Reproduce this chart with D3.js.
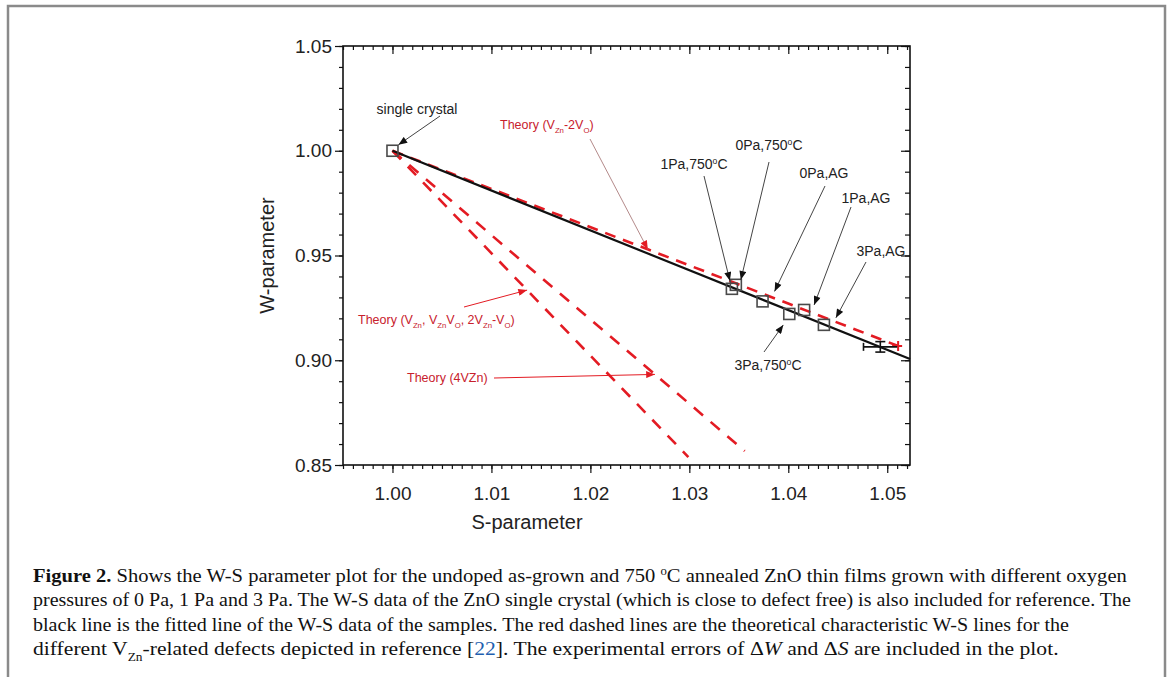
<!DOCTYPE html>
<html>
<head>
<meta charset="utf-8">
<script src="https://cdn.jsdelivr.net/npm/d3@7"></script>
<style>
  html, body { margin: 0; padding: 0; background: #fff; }
  svg { display: block; }
</style>
</head>
<body>
<div id="chart"></div>
<script>
// --- données ---
const sampleNames = ["single crystal", "1Pa,750°C", "0Pa,750°C", "0Pa,AG", "3Pa,750°C", "1Pa,AG", "3Pa,AG"]
const sValues = [1.000, 1.0343, 1.0347, 1.0374, 1.0401, 1.0416, 1.0436]
const wValues = [1.000, 0.9341, 0.9360, 0.9281, 0.9221, 0.9240, 0.9169]

// barre d'erreur représentative (ΔS, ΔW)
const errPoint = [1.0493, 0.9064]
const errDelta = [0.0017, 0.0025]

// droite ajustée (noire)
const fitS = [1.000, 1.0523]
const fitW = [1.000, 0.9006]

// droites théoriques (rouges, pointillés) : départ commun (1, 1)
const theoryLabels = ["Vzn-2Vo", "Vzn,VznVo,2Vzn-Vo", "4VZn"]
const theoryEndS = [1.0511, 1.0299, 1.0356]
const theoryEndW = [0.9068, 0.8538, 0.8567]

const xTickValues = [1.00, 1.01, 1.02, 1.03, 1.04, 1.05]
const yTickValues = [0.85, 0.90, 0.95, 1.00, 1.05]
const xMinorValues = d3.range(995, 1053).map(i => i / 1000)
const yMinorValues = d3.range(85, 106).map(i => i / 100)

// --- mise en page ---
const W = 1171, H = 677
const frame = { left: 343, right: 910, top: 46, bottom: 465 }
const RED = "#e31b23", RED_TXT = "#c8202c", SANS = "Liberation Sans, Arial, sans-serif"
const SERIF = "Liberation Serif, Times New Roman, serif"

const svg = d3.select("#chart").append("svg")
  .attr("width", W).attr("height", H)
  .attr("viewBox", `0 0 ${W} ${H}`)

// cadre extérieur gris
svg.append("rect")
  .attr("x", 8).attr("y", 6).attr("width", 1157).attr("height", 700)
  .attr("fill", "none").attr("stroke", "#8a8a8a").attr("stroke-width", 2.5)

const x = d3.scaleLinear().domain([0.995, 1.0523]).range([frame.left, frame.right])
const y = d3.scaleLinear().domain([0.85, 1.05]).range([frame.bottom, frame.top])

// flèches
const defs = svg.append("defs")
function arrowMarker(id, color) {
  defs.append("marker")
    .attr("id", id).attr("viewBox", "0 0 10 8")
    .attr("refX", 10).attr("refY", 4)
    .attr("markerWidth", 10).attr("markerHeight", 7)
    .attr("markerUnits", "userSpaceOnUse").attr("orient", "auto")
    .append("path").attr("d", "M0,0 L10,4 L0,8 Z").attr("fill", color)
}
arrowMarker("arrK", "#111")
arrowMarker("arrR", RED)

// --- axes (ticks mineurs + majeurs) ---
const axisColor = "#111"
function axisGroup(axis, tx, ty) {
  return svg.append("g")
    .attr("transform", `translate(${tx},${ty})`)
    .call(axis)
    .call(s => s.select(".domain").remove())
    .call(s => s.selectAll("line").attr("stroke", axisColor).attr("stroke-width", 1.2))
}
// bas : vers l'extérieur
axisGroup(d3.axisBottom(x).tickValues(xMinorValues).tickSize(4).tickFormat(""), 0, frame.bottom)
axisGroup(d3.axisBottom(x).tickValues(xTickValues).tickSize(8).tickPadding(14).tickFormat(d3.format(".2f")), 0, frame.bottom)
  .selectAll("text").attr("font-size", 19).attr("font-family", SANS).attr("fill", "#222")
// haut : vers l'intérieur
axisGroup(d3.axisTop(x).tickValues(xMinorValues).tickSize(-4).tickFormat(""), 0, frame.top)
axisGroup(d3.axisTop(x).tickValues(xTickValues).tickSize(-8).tickFormat(""), 0, frame.top)
// gauche : vers l'extérieur
axisGroup(d3.axisLeft(y).tickValues(yMinorValues).tickSize(4).tickFormat(""), frame.left, 0)
axisGroup(d3.axisLeft(y).tickValues(yTickValues).tickSize(8).tickPadding(3).tickFormat(d3.format(".2f")), frame.left, 0)
  .selectAll("text").attr("font-size", 19).attr("font-family", SANS).attr("fill", "#222")
// droite : vers l'intérieur
axisGroup(d3.axisRight(y).tickValues(yMinorValues).tickSize(-5).tickFormat(""), frame.right, 0)
axisGroup(d3.axisRight(y).tickValues(yTickValues).tickSize(-9).tickFormat(""), frame.right, 0)

svg.append("rect")
  .attr("x", frame.left).attr("y", frame.top)
  .attr("width", frame.right - frame.left).attr("height", frame.bottom - frame.top)
  .attr("fill", "none").attr("stroke", axisColor).attr("stroke-width", 1.6)

// titres d'axes
svg.append("text")
  .attr("x", 527).attr("y", 529)
  .attr("text-anchor", "middle").attr("font-size", 20).attr("font-family", SANS).attr("fill", "#222")
  .text("S-parameter")
svg.append("text")
  .attr("transform", `translate(274,${(frame.top + frame.bottom) / 2}) rotate(-90)`)
  .attr("text-anchor", "middle").attr("font-size", 20).attr("font-family", SANS).attr("fill", "#222")
  .text("W-parameter")

// --- droites ---
const line = d3.line().x(d => x(d[0])).y(d => y(d[1]))

theoryEndS.forEach((s, i) => {
  svg.append("path")
    .attr("d", line([[1.0, 1.0], [s, theoryEndW[i]]]))
    .attr("fill", "none").attr("stroke", RED).attr("stroke-width", 2.6)
    .attr("stroke-dasharray", i === 0 ? "11,8" : "12,10")
})

svg.append("path")
  .attr("d", line([[fitS[0], fitW[0]], [fitS[1], fitW[1]]]))
  .attr("fill", "none").attr("stroke", "#111").attr("stroke-width", 2.2)

// fin de la droite V_Zn-2V_O : petite croix rouge
{
  const px = x(theoryEndS[0]), py = y(theoryEndW[0])
  svg.append("path")
    .attr("d", `M${px - 6},${py} H${px + 4} M${px},${py - 5} V${py + 5}`)
    .attr("stroke", RED).attr("stroke-width", 2)
}

// barre d'erreur
{
  const cx = x(errPoint[0]), cy = y(errPoint[1])
  const x0 = x(errPoint[0] - errDelta[0]), x1 = x(errPoint[0] + errDelta[0])
  const y0 = y(errPoint[1] + errDelta[1]), y1 = y(errPoint[1] - errDelta[1])
  const eb = svg.append("g").attr("stroke", "#111").attr("stroke-width", 1.6)
  eb.append("line").attr("x1", x0).attr("x2", x1).attr("y1", cy).attr("y2", cy)
  eb.append("line").attr("x1", x0).attr("x2", x0).attr("y1", cy - 4).attr("y2", cy + 4)
  eb.append("line").attr("x1", cx).attr("x2", cx).attr("y1", y0).attr("y2", y1)
  eb.append("line").attr("x1", cx - 5).attr("x2", cx + 5).attr("y1", y0).attr("y2", y0)
  eb.append("line").attr("x1", cx - 5).attr("x2", cx + 5).attr("y1", y1).attr("y2", y1)
}

// points (carrés creux)
const sq = 11
svg.append("g").selectAll("rect")
  .data(sValues.map((s, i) => [s, wValues[i]]))
  .join("rect")
  .attr("x", d => x(d[0]) - sq / 2).attr("y", d => y(d[1]) - sq / 2)
  .attr("width", sq).attr("height", sq)
  .attr("fill", "none").attr("stroke", "#4a4a4a").attr("stroke-width", 1.6)

// --- texte enrichi (indices / exposants) ---
function rich(sel, parts, size) {
  let shift = 0
  parts.forEach(p => {
    const kind = p.sub ? "sub" : p.sup ? "sup" : null
    const target = kind === "sub" ? size * 0.3 : kind === "sup" ? -size * 0.38 : 0
    const t = sel.append("tspan")
      .attr("dy", target - shift)
      .attr("font-size", kind ? size * 0.62 : size)
      .text(p.t)
    if (p.b) t.attr("font-weight", "bold")
    if (p.i) t.attr("font-style", "italic")
    if (p.c) t.attr("fill", p.c)
    shift = target
  })
  return sel
}

// annotations des échantillons : [index, texte x, texte y, départ flèche, décalage pointe]
const sampleNotes = [
  [0, 417, 109, [440, 116], [6, -6]],
  [1, 694, 164, [704, 176], [-2, -8]],
  [2, 769, 145, [769, 162], [5, -5]],
  [3, 824, 173, [825, 186], [12, -10]],
  [5, 866, 198, [851, 207], [10, -5]],
  [6, 881, 251, [866, 262], [12, -7]],
  [4, 768, 365, [764, 352], [-6, 11]],
]
sampleNotes.forEach(([i, tx, ty, start, off]) => {
  const tip = [x(sValues[i]) + off[0], y(wValues[i]) + off[1]]
  svg.append("line")
    .attr("x1", start[0]).attr("y1", start[1]).attr("x2", tip[0]).attr("y2", tip[1])
    .attr("stroke", "#444").attr("stroke-width", 1).attr("marker-end", "url(#arrK)")
  const name = sampleNames[i]
  const t = svg.append("text")
    .attr("x", tx).attr("y", ty + 5)
    .attr("text-anchor", "middle").attr("font-family", SANS).attr("fill", "#222")
  const fs = 14
  if (name.includes("°")) {
    const [a, b] = name.split("°")
    rich(t, [{ t: a }, { t: "o", sup: true }, { t: b }], fs)
  } else {
    t.attr("font-size", fs).text(name)
  }
})

// annotations des droites théoriques
function theoryNote(parts, tx, ty, start, tipS, lineColor) {
  const t = svg.append("text").attr("x", tx).attr("y", ty + 4)
    .attr("font-family", SANS).attr("fill", RED_TXT)
  rich(t, parts, 12.5)
  svg.append("line")
    .attr("x1", start[0]).attr("y1", start[1])
    .attr("x2", x(tipS[0])).attr("y2", y(tipS[1]))
    .attr("stroke", lineColor).attr("stroke-width", 1).attr("marker-end", "url(#arrR)")
}
// pointe placée sur chaque droite théorique (fraction du segment)
const onTheory = (i, f) => [1 + f * (theoryEndS[i] - 1), 1 + f * (theoryEndW[i] - 1)]

theoryNote([{ t: "Theory (V" }, { t: "Zn", sub: true }, { t: "-2V" }, { t: "O", sub: true }, { t: ")" }],
  500, 125, [590, 139], onTheory(0, 0.505), "#b48a8a")
theoryNote([{ t: "Theory (V" }, { t: "Zn", sub: true }, { t: ", V" }, { t: "Zn", sub: true }, { t: "V" },
  { t: "O", sub: true }, { t: ", 2V" }, { t: "Zn", sub: true }, { t: "-V" }, { t: "O", sub: true }, { t: ")" }],
  358, 320, [464, 307], onTheory(1, 0.455), RED)
theoryNote([{ t: "Theory (4VZn)" }], 407, 378, [494, 378], onTheory(2, 0.745), RED)

// --- légende de la figure ---
const capLines = [
  { parts: [{ t: "Figure 2.", b: true }, { t: " Shows the W-S parameter plot for the undoped as-grown and 750 " }, { t: "o", sup: true },
    { t: "C annealed ZnO thin films grown with different oxygen" }], width: 1095 },
  { parts: [{ t: "pressures of 0 Pa, 1 Pa and 3 Pa. The W-S data of the ZnO single crystal (which is close to defect free) is also included for reference. The" }], width: 1098 },
  { parts: [{ t: "black line is the fitted line of the W-S data of the samples. The red dashed lines are the theoretical characteristic W-S lines for the" }], width: 1037 },
  { parts: [{ t: "different V" }, { t: "Zn", sub: true }, { t: "-related defects depicted in reference [" }, { t: "22", c: "#1f5fb0" },
    { t: "]. The experimental errors of Δ" }, { t: "W", i: true }, { t: " and Δ" }, { t: "S", i: true },
    { t: " are included in the plot." }], width: 1026 },
]
capLines.forEach((l, k) => {
  const t = svg.append("text").attr("x", 0).attr("y", 0)
    .attr("font-family", SERIF).attr("fill", "#111")
  rich(t, l.parts, 19.5)
  const w = t.node().getBBox().width
  t.attr("transform", `translate(33,${582 + k * 24.3}) scale(${l.width / w},1)`)
})
</script>
</body>
</html>
